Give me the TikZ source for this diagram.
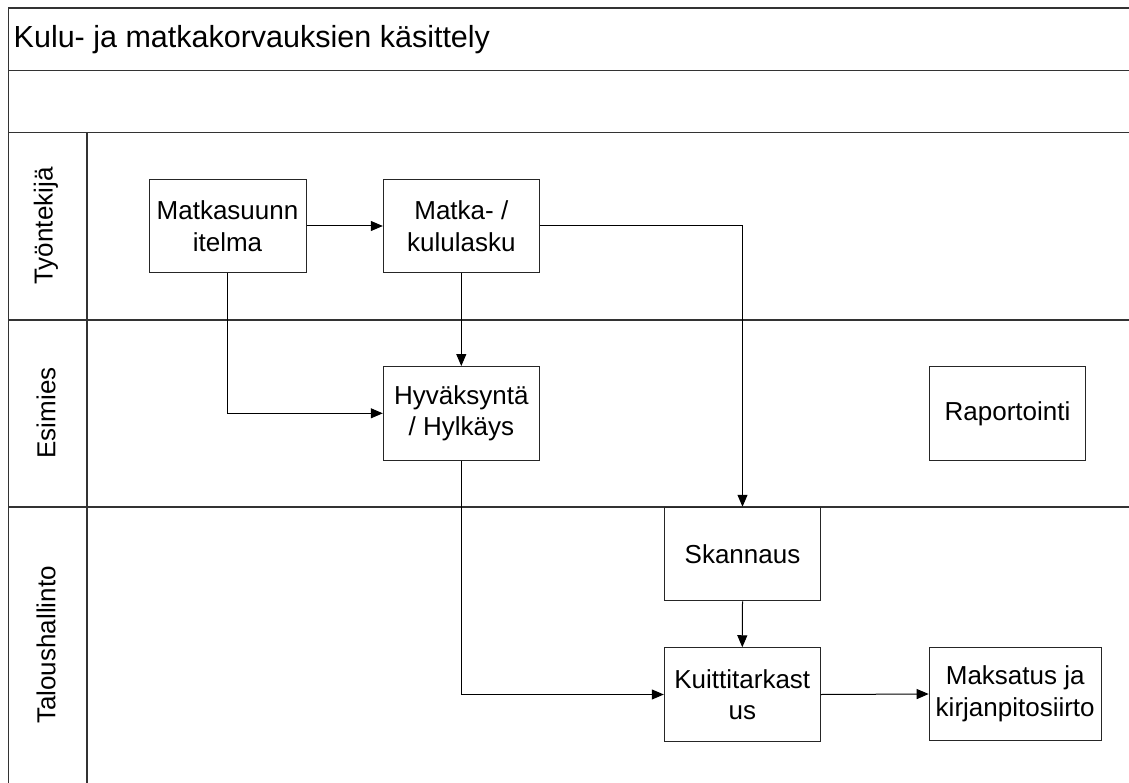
\documentclass[tikz,border=0pt]{standalone}
\usepackage{fontspec}
\setmainfont{Liberation Sans}
\usetikzlibrary{arrows.meta}
\begin{document}
\begin{tikzpicture}[x=1pt,y=-1pt,
  frame/.style={draw=black!80, line width=1.2pt},
  procbox/.style={draw=black!85, line width=1pt, rectangle, minimum width=156pt, minimum height=93.5pt, inner sep=0pt, align=center, font=\fontsize{26}{31.5}\selectfont},
  lanelabel/.style={rotate=90, font=\fontsize{26}{30}\selectfont, inner sep=0pt},
  flow/.style={draw=black, line width=1pt, -{Triangle[length=12pt,width=10pt]}}
]
\useasboundingbox (0,0) rectangle (1129,783);
% frame and lanes
\draw[frame] (8.5,783) -- (8.5,8) -- (1129,8);
\draw[frame] (8.5,70.5) -- (1129,70.5);
\draw[frame] (8.5,132.5) -- (1129,132.5);
\draw[frame] (8.5,320) -- (1129,320);
\draw[frame] (8.5,507) -- (1129,507);
\draw[frame] (87,132.5) -- (87,783);
% title and lane labels
\node[anchor=west, font=\fontsize{30.5}{34}\selectfont, inner sep=0pt] (title) at (13.5,40) {Kulu- ja matkakorvauksien käsittely};
\node[lanelabel] (l1) at (46,226) {Työntekijä};
\node[lanelabel] (l2) at (46,413) {Esimies};
\node[lanelabel] (l3) at (46,645) {Taloushallinto};
% process boxes
\node[procbox, minimum width=157pt] (ms) at (227.5,226) {Matkasuunn\\itelma};
\node[procbox] (ml) at (461.3,226) {Matka- /\\kululasku};
\node[procbox] (hy) at (461.3,413.3) {Hyväksyntä\\/ Hylkäys};
\node[procbox] (ra) at (1007.5,413.3) {Raportointi};
\node[procbox] (sk) at (742.5,554) {Skannaus};
\node[procbox] (ku) at (742.3,694.5) {Kuittitarkast\\us};
\node[procbox, minimum width=172pt] (ma) at (1015.2,694) {Maksatus ja\\kirjanpitosiirto};
% connectors
\draw[flow] (ms.east) -- (ml.west);
\draw[flow] (ms.south) |- (hy.west);
\draw[flow] (ml.south) -- (hy.north);
\draw[flow] (ml.east) -| (sk.north);
\draw[flow] (hy.south) |- (ku.west);
\draw[flow] (sk.south) -- (ku.north);
\draw[flow] (ku.east) -- (ma.west);
\end{tikzpicture}
\end{document}
